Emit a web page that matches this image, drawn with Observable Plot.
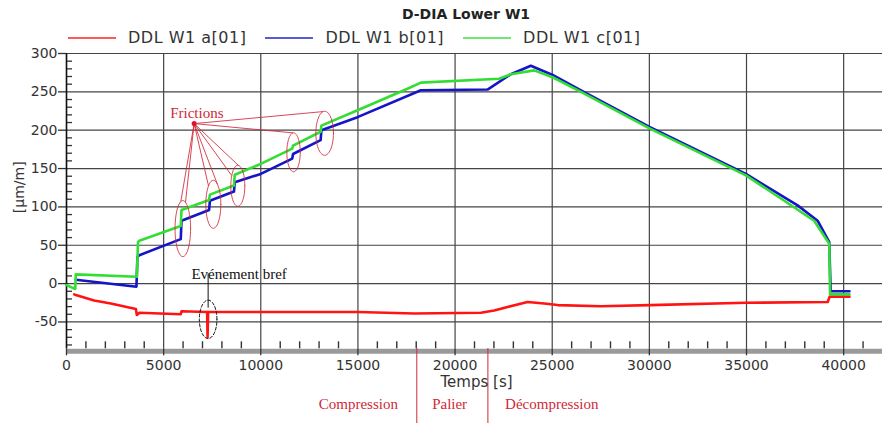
<!DOCTYPE html>
<html><head><meta charset="utf-8">
<script src="https://cdn.jsdelivr.net/npm/d3@7"></script>
<script src="https://cdn.jsdelivr.net/npm/@observablehq/plot@0.6"></script>
<style>
body{margin:0;background:#fff;}
#head{position:relative;width:884px;height:46px;font-family:"DejaVu Sans",sans-serif;color:#222}
#title{position:absolute;left:466px;top:6px;transform:translateX(-50%);font-weight:bold;font-size:14px;line-height:16px;white-space:nowrap}
#legend{position:absolute;left:68px;top:29px;height:18px;display:flex;align-items:center;font-size:16px;line-height:18px;letter-spacing:0.5px;color:#333;white-space:nowrap}
.item{display:flex;align-items:center;margin-right:19px}
.sw{width:48px;height:2px;margin-right:12px;opacity:0.7}
</style></head>
<body>
<div id="head"><div id="title">D-DIA Lower W1</div><div id="legend"></div></div>
<div id="chart"></div>
<script>
// ---- series (time in s, strain in µm/m) ----
const seriesNames = ["DDL W1 a[01]", "DDL W1 b[01]", "DDL W1 c[01]"];
const seriesColors = ["#ff1414", "#1414c8", "#33dd33"];

const timeA = [400, 480, 1420, 2280, 3570, 3620, 3750, 5880, 5920, 7240, 7260, 7290, 11050, 14980, 17900, 21330, 22010, 23730, 24590, 25280, 27500, 30030, 34970, 39180, 39280, 40300];
const valA  = [-14, -15, -22, -26, -33, -41, -38, -40, -36, -37, -70, -37, -37, -37, -39, -38, -35, -24, -26, -28, -29.6, -28, -25, -24, -17, -17];

const timeB = [480, 3600, 3650, 3750, 5880, 5920, 7340, 7380, 8620, 8660, 10000, 11620, 11660, 13080, 13120, 14980, 18240, 21670, 22870, 23900, 25020, 26480, 30030, 34970, 37630, 38660, 39260, 39330, 40300];
const valB  = [5, -4, 35, 37, 58, 82, 96, 108, 120, 132, 143, 163, 169, 187, 200, 217, 252, 253, 273, 284, 272, 252, 204, 143, 102, 82, 54, -10, -10];

const timeC = [0, 450, 480, 3620, 3680, 3750, 5880, 5920, 7340, 7380, 8620, 8660, 10000, 11620, 11660, 13080, 13120, 14980, 17550, 18240, 22270, 22870, 24070, 25020, 26480, 30030, 34970, 36770, 38480, 39260, 39300, 40300];
const valC  = [-2, -7, 12, 9, 54, 56, 75, 96, 109, 116, 128, 142, 156, 176, 180, 198, 206, 226, 254, 262, 267, 273, 278, 269, 250, 202, 141, 111, 82, 52, -14, -14];

// ---- axes ----
const xTicks = [0, 5000, 10000, 15000, 20000, 25000, 30000, 35000, 40000];
const yTicks = [-50, 0, 50, 100, 150, 200, 250, 300];

// ---- annotations ----
const frictionT = [5987, 7557, 8818, 11686, 13287];
const frictionV = [71.7, 103.4, 127.5, 171.2, 196];
const frictionHalfT = [400, 386, 360, 345, 453];
const frictionHalfV = [36.5, 31.3, 26.7, 25.4, 28.7];
const frictionLinkEllipse = [0, 0, 1, 1, 2, 2, 3, 4];
const frictionLinkAngle   = [105, 70, 130, 57, 150, 85, 95, 100];
const frictionDot = {t: 6569, v: 208.6};
const frictionLabel = {t: 6710, v: 222.7, text: "Frictions"};

const eventEllipse = {t: 7290, v: -46.6, halfT: 453, halfV: 25};
const eventLabel = {t: 8886, v: 12.8, text: "Evénement bref"};

const phaseNames = ["Compression", "Palier", "Décompression"];
const phaseMid = [15020, 19720, 24975];
const phaseBounds = [18030, 21690];

// ---- build tables ----
const tables = [[timeA, valA], [timeB, valB], [timeC, valC]].map(([ts, vs]) => ts.map((t, i) => ({t, v: vs[i]})));
const xMinor = d3.range(1000, 42000, 1000).filter(d => d % 5000 !== 0);
const yMinor = d3.range(-80, 300, 10).filter(d => d % 50 !== 0);

function ellipsePoints(ct, cv, ht, hv, id) {
  return d3.range(0, 361, 6).map(a => ({t: ct + ht * Math.cos(a * Math.PI / 180), v: cv + hv * Math.sin(a * Math.PI / 180), id}));
}
const frictionEllipses = frictionT.flatMap((t, i) => ellipsePoints(t, frictionV[i], frictionHalfT[i], frictionHalfV[i], i));
const frictionLinks = frictionLinkEllipse.map((e, k) => {
  const a = frictionLinkAngle[k] * Math.PI / 180;
  return {x2: frictionT[e] + frictionHalfT[e] * Math.cos(a), y2: frictionV[e] + frictionHalfV[e] * Math.sin(a)};
});
const eventPts = ellipsePoints(eventEllipse.t, eventEllipse.v, eventEllipse.halfT, eventEllipse.halfV, 0);

// ---- legend ----
const legend = document.getElementById("legend");
seriesNames.forEach((n, i) => {
  const it = document.createElement("div"); it.className = "item";
  const sw = document.createElement("div"); sw.className = "sw"; sw.style.background = seriesColors[i];
  const tx = document.createElement("span"); tx.textContent = n;
  it.appendChild(sw); it.appendChild(tx); legend.appendChild(it);
});

const redNote = "#d02838";
const fmt = d => String(d);

const chart = Plot.plot({
  width: 884, height: 377,
  marginTop: 7, marginBottom: 74.7, marginLeft: 66, marginRight: 2,
  style: {fontFamily: "'DejaVu Sans', sans-serif", fontSize: "14px", color: "#333", background: "#fff", overflow: "visible"},
  x: {domain: [0, 42000]},
  y: {domain: [-85, 300]},
  marks: [
    Plot.gridX(xTicks, {stroke: "#444", strokeOpacity: 1, strokeWidth: 1.2}),
    Plot.gridY(yTicks, {stroke: "#444", strokeOpacity: 1, strokeWidth: 1.2}),
    Plot.ruleY([-85], {stroke: "#9a9a9a", strokeWidth: 5, dy: 2.5}),
    Plot.axisX(xTicks, {tickSize: 7, tickPadding: 4, tickFormat: fmt, label: null, stroke: "#333", strokeWidth: 1.3}),
    Plot.axisX(xMinor, {tickSize: -7, tickFormat: () => "", label: null, stroke: "#333", strokeWidth: 1.4}),
    Plot.axisY(yTicks, {tickSize: 8, tickPadding: 1, tickFormat: fmt, label: null, stroke: "#333", strokeWidth: 1.3}),
    Plot.axisY(yMinor, {tickSize: -6, tickFormat: () => "", label: null, stroke: "#333", strokeWidth: 1.3}),
    Plot.ruleX([0], {stroke: "#111", strokeWidth: 1.5}),
    // phases below the axis
    Plot.ruleX(phaseBounds, {insetTop: 295, insetBottom: -75, stroke: redNote, strokeWidth: 1}),
    Plot.text(phaseNames, {x: phaseMid, frameAnchor: "bottom", dy: 59.7, fill: redNote, fontFamily: "'Liberation Serif', serif", fontSize: 15}),
    Plot.text(["Temps [s]"], {frameAnchor: "bottom", dy: 38, dx: 2, fontSize: 15, fill: "#333"}),
    Plot.text(["[µm/m]"], {frameAnchor: "left", rotate: -90, dx: -47, dy: 12, fontSize: 14, fill: "#333"}),
    // series
    ...tables.map((tb, i) => Plot.line(tb, {x: "t", y: "v", stroke: seriesColors[i], strokeWidth: 2.6})),
    // friction annotations
    Plot.line(frictionEllipses, {x: "t", y: "v", z: "id", stroke: redNote, strokeWidth: 1, strokeOpacity: 0.85}),
    Plot.link(frictionLinks, {x1: () => frictionDot.t, y1: () => frictionDot.v, x2: "x2", y2: "y2", stroke: redNote, strokeWidth: 1, strokeOpacity: 0.85}),
    Plot.dot([frictionDot], {x: "t", y: "v", r: 2.5, fill: "#e01030", stroke: "none"}),
    Plot.text([frictionLabel], {x: "t", y: "v", text: "text", fill: redNote, fontFamily: "'Liberation Serif', serif", fontSize: 15}),
    // event annotation
    Plot.line(eventPts, {x: "t", y: "v", stroke: "#111", strokeWidth: 1, strokeDasharray: "3,2"}),
    Plot.ruleX([eventEllipse], {x: "t", y1: d => d.v + d.halfV, y2: () => eventLabel.v, insetTop: 8, stroke: "#111", strokeWidth: 1}),
    Plot.text([eventLabel], {x: "t", y: "v", text: "text", fill: "#111", fontFamily: "'Liberation Serif', serif", fontSize: 15})
  ]
});
document.getElementById("chart").appendChild(chart);
</script>
</body></html>
